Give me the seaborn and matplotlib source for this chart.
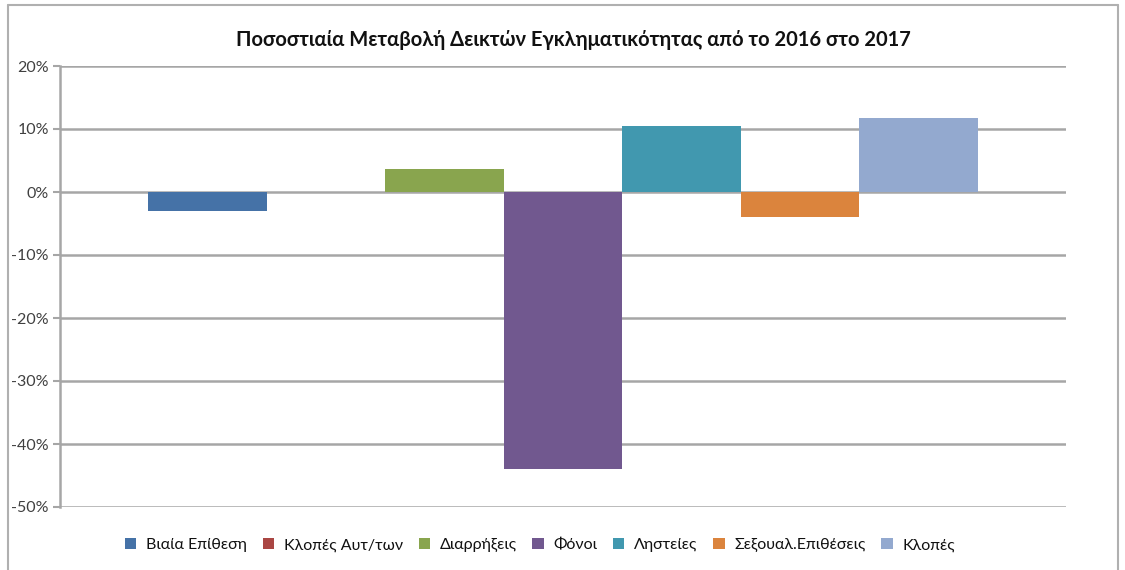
import numpy as np
import pandas as pd
import matplotlib
matplotlib.use("Agg")
import matplotlib.pyplot as plt
from matplotlib.lines import Line2D
from matplotlib.patches import Patch
import seaborn as sns

# ── Data ─────────────────────────────────────────────────────────────────────
crimes = ["Βιαία Επίθεση", "Κλοπές Αυτ/των", "Διαρρήξεις", "Φόνοι",
          "Ληστείες", "Σεξουαλ.Επιθέσεις", "Κλοπές"]
change_pct = [-3.0, 0.0, 3.6, -44.0, 10.5, -4.0, 11.7]
colors = ["#4572A7", "#AA4643", "#89A54E", "#71588F",
          "#4198AF", "#DB843D", "#93A9CF"]
yticks = [20, 10, 0, -10, -20, -30, -40, -50]
title = "Ποσοστιαία Μεταβολή Δεικτών Εγκληματικότητας από το 2016 στο 2017"

df = pd.DataFrame({"group": ["2017"] * len(crimes), "crime": crimes, "value": change_pct})

sns.set_style("white")
plt.rcParams["font.family"] = ["Lato", "DejaVu Sans"]

fig = plt.figure(figsize=(11.25, 5.7), dpi=100)
ax = fig.add_axes([60 / 1125, 1 - 507 / 570, 1006 / 1125, 441 / 570])

sns.barplot(data=df, x="group", y="value", hue="crime", hue_order=crimes,
            palette=colors, width=0.825, dodge=True, legend=False,
            saturation=1, edgecolor="none", ax=ax)

# ── Axes styling ─────────────────────────────────────────────────────────────
ax.set_xlim(-0.5, 0.5)
ax.set_ylim(-50, 20)
ax.set_yticks(yticks)
ax.set_yticklabels([f"{t}%" for t in yticks], fontsize=11.5, color="#404040")
ax.set_xticks([])
ax.set_xlabel("")
ax.set_ylabel("")
for t in yticks:
    ax.axhline(t, color="#A6A6A6", lw=1.8, zorder=0)
ax.tick_params(axis="y", length=5, width=1.5, color="#A6A6A6", left=True, pad=3)
for s in ["top", "right", "bottom"]:
    ax.spines[s].set_visible(False)
ax.spines["left"].set_color("#A6A6A6")
ax.spines["left"].set_linewidth(1.8)

fig.text(573 / 1125, 1 - 40 / 570, title, ha="center", va="center",
         fontsize=14.5, fontweight="bold", color="#111111")

# ── Legend ───────────────────────────────────────────────────────────────────
handles = [Patch(facecolor=c, edgecolor="none") for c in colors]
leg = fig.legend(handles, crimes, loc="center", bbox_to_anchor=(540 / 1125, 1 - 545 / 570),
                 ncol=len(crimes), frameon=False, fontsize=11.5, handlelength=0.7,
                 handleheight=0.7, handletextpad=0.6, columnspacing=1.0)
for txt in leg.get_texts():
    txt.set_color("#111111")

# ── Outer frame ──────────────────────────────────────────────────────────────
fc = "#B0B0B0"
fig.add_artist(Line2D([8 / 1125, 1118 / 1125], [1 - 5 / 570] * 2, color=fc, lw=1.5))
fig.add_artist(Line2D([8 / 1125] * 2, [0, 1 - 5 / 570], color=fc, lw=1.5))
fig.add_artist(Line2D([1118 / 1125] * 2, [0, 1 - 5 / 570], color=fc, lw=1.5))

fig.savefig("out.png", dpi=100)
plt.close(fig)
